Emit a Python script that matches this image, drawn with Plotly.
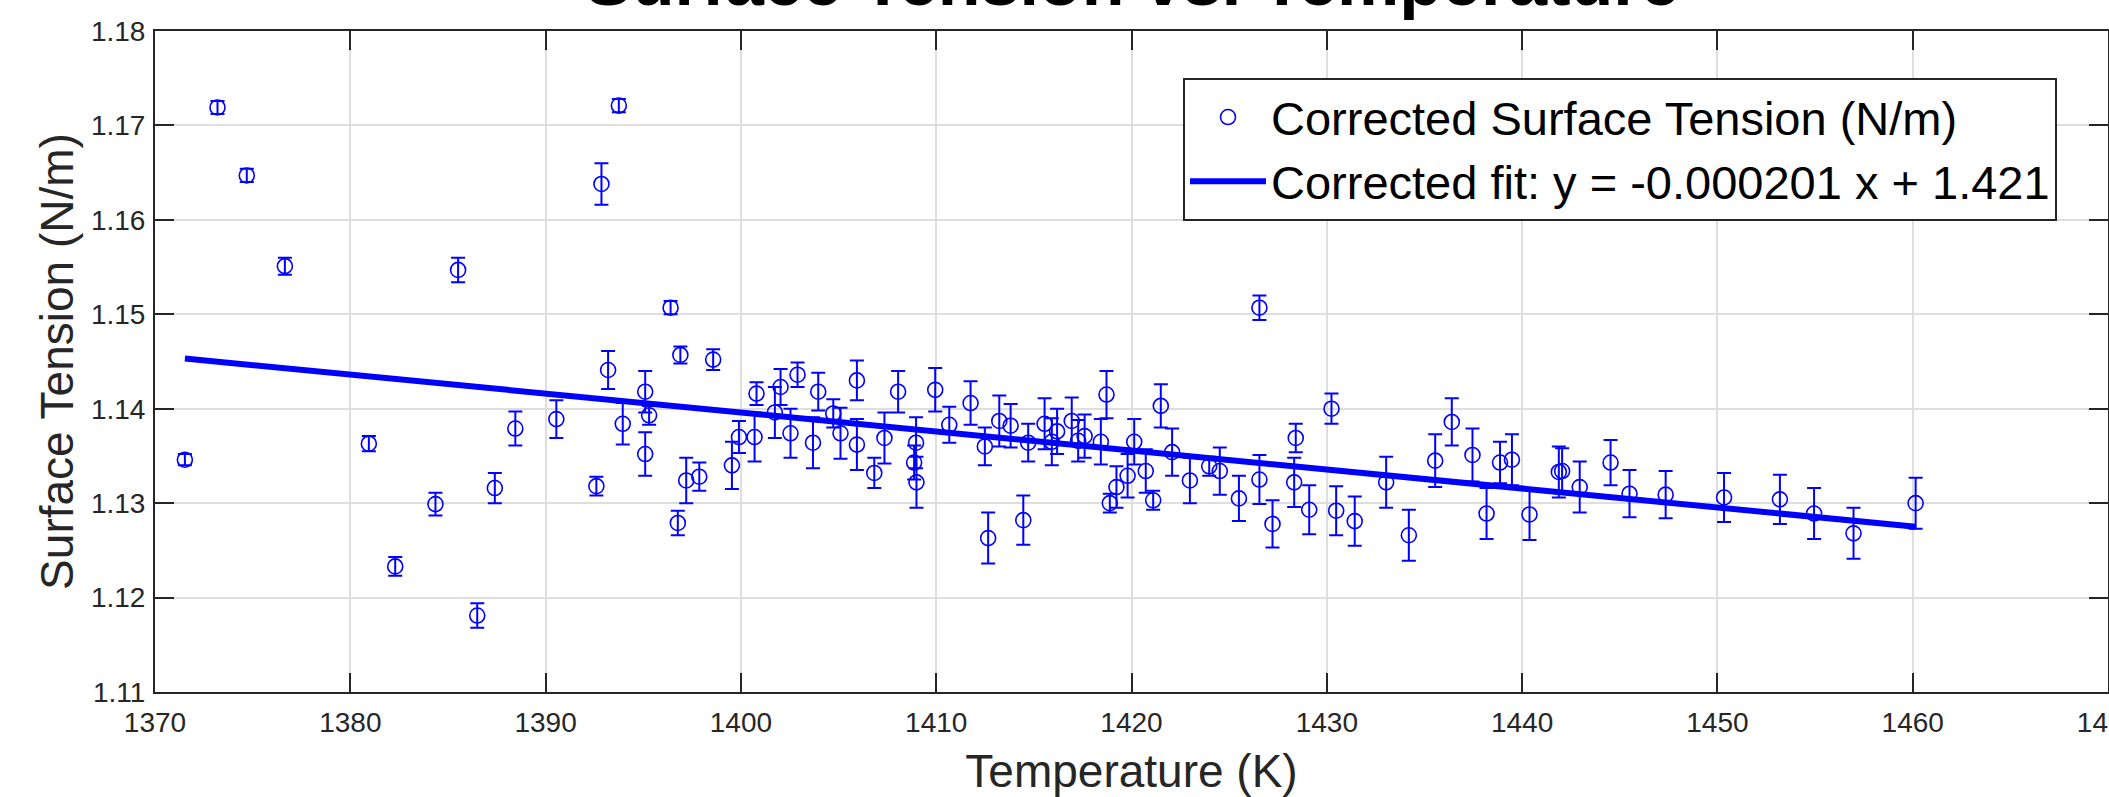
import plotly.graph_objects as go

# ---- data ----
temperature = [1371.53, 1373.20, 1374.70, 1376.65, 1380.95, 1382.30, 1384.36, 1385.52, 1386.50, 1387.40,
               1388.45, 1390.55, 1392.60, 1392.86, 1393.20, 1393.75, 1393.95, 1395.10, 1395.10, 1395.30,
               1396.40, 1396.77, 1396.90, 1397.20, 1397.87, 1398.58, 1399.54, 1399.90, 1400.70, 1400.80,
               1401.74, 1402.03, 1402.54, 1402.90, 1403.69, 1403.96, 1404.73, 1405.10, 1405.94, 1405.94,
               1406.83, 1407.35, 1408.05, 1408.87, 1408.97, 1408.99, 1409.95, 1410.67, 1411.76, 1412.49,
               1412.66, 1413.23, 1413.81, 1414.46, 1414.71, 1415.55, 1415.92, 1416.19, 1416.94, 1417.27,
               1417.60, 1418.43, 1418.72, 1418.89, 1419.23, 1419.80, 1420.14, 1420.73, 1421.11, 1421.50,
               1422.08, 1422.99, 1423.98, 1424.52, 1425.50, 1426.55, 1426.55, 1427.22, 1428.33, 1428.41,
               1429.10, 1430.24, 1430.48, 1431.43, 1433.04, 1434.20, 1435.55, 1436.40, 1437.46, 1438.18,
               1438.87, 1439.48, 1440.38, 1441.88, 1442.05, 1442.95, 1444.53, 1445.50, 1447.35, 1450.34,
               1453.20, 1454.95, 1456.97, 1460.15]

surface_tension = [1.1346, 1.1719, 1.1647, 1.1551, 1.1363, 1.1233, 1.1299, 1.1547, 1.1181, 1.1316,
                   1.1379, 1.1389, 1.1318, 1.1638, 1.1441, 1.1721, 1.1384, 1.1418, 1.1352, 1.1393,
                   1.1507, 1.1279, 1.1457, 1.1324, 1.1328, 1.1452, 1.1340, 1.1370, 1.1370, 1.1416,
                   1.1396, 1.1423, 1.1374, 1.1436, 1.1364, 1.1418, 1.1395, 1.1374, 1.1430, 1.1362,
                   1.1332, 1.1369, 1.1418, 1.1343, 1.1364, 1.1322, 1.1420, 1.1383, 1.1406, 1.1360,
                   1.1263, 1.1387, 1.1382, 1.1282, 1.1364, 1.1384, 1.1365, 1.1376, 1.1387, 1.1366,
                   1.1371, 1.1365, 1.1415, 1.1300, 1.1317, 1.1329, 1.1365, 1.1334, 1.1303, 1.1403,
                   1.1354, 1.1324, 1.1339, 1.1334, 1.1305, 1.1507, 1.1325, 1.1278, 1.1322, 1.1369,
                   1.1293, 1.1400, 1.1292, 1.1281, 1.1322, 1.1266, 1.1345, 1.1386, 1.1351, 1.1289,
                   1.1343, 1.1346, 1.1288, 1.1333, 1.1334, 1.1317, 1.1343, 1.1310, 1.1309, 1.1306,
                   1.1304, 1.1289, 1.1268, 1.1300]

uncertainty = [0.0006, 0.0007, 0.0007, 0.0009, 0.0008, 0.0010, 0.0012, 0.0013, 0.0013, 0.0016,
               0.0018, 0.0020, 0.0010, 0.0022, 0.0020, 0.0007, 0.0022, 0.0022, 0.0023, 0.0010,
               0.0007, 0.0013, 0.0009, 0.0024, 0.0015, 0.0011, 0.0025, 0.0017, 0.0026, 0.0012,
               0.0027, 0.0019, 0.0026, 0.0013, 0.0027, 0.0020, 0.0015, 0.0027, 0.0021, 0.0027,
               0.0016, 0.0027, 0.0022, 0.0018, 0.0027, 0.0027, 0.0023, 0.0019, 0.0023, 0.0020,
               0.0027, 0.0027, 0.0023, 0.0026, 0.0020, 0.0027, 0.0025, 0.0024, 0.0025, 0.0022,
               0.0023, 0.0024, 0.0025, 0.0010, 0.0022, 0.0023, 0.0024, 0.0023, 0.0010, 0.0023,
               0.0025, 0.0024, 0.0010, 0.0025, 0.0024, 0.0013, 0.0026, 0.0025, 0.0026, 0.0015,
               0.0026, 0.0016, 0.0026, 0.0026, 0.0027, 0.0027, 0.0028, 0.0025, 0.0028, 0.0027,
               0.0022, 0.0027, 0.0027, 0.0027, 0.0024, 0.0027, 0.0024, 0.0025, 0.0025, 0.0026,
               0.0026, 0.0027, 0.0027, 0.0027]

fit_temperature = [1371.53, 1460.15]
fit_tension = [1.14532, 1.12750]

x_ticks = [1370, 1380, 1390, 1400, 1410, 1420, 1430, 1440, 1450, 1460, 1470]
y_ticks = [1.11, 1.12, 1.13, 1.14, 1.15, 1.16, 1.17, 1.18]

title_text = "Surface Tension vs. Temperature"
x_label = "Temperature (K)"
y_label = "Surface Tension (N/m)"
series_name = "Corrected Surface Tension (N/m)"
fit_name = "Corrected fit: y = -0.000201 x + 1.421"

FONT = "Liberation Sans, Arial, Helvetica, sans-serif"
AX = "#262626"
BLUE = "rgb(0,0,255)"

fig = go.Figure()
fig.add_trace(go.Scatter(
    x=temperature, y=surface_tension, mode="markers", name=series_name,
    marker=dict(symbol="circle-open", size=15, color=BLUE, line=dict(width=1.6, color=BLUE)),
    error_y=dict(type="data", array=uncertainty, visible=True, color=BLUE, thickness=2, width=7),
))
fig.add_trace(go.Scatter(
    x=fit_temperature, y=fit_tension, mode="lines", name=fit_name,
    line=dict(color=BLUE, width=6),
))

axis_common = dict(
    showline=True, linecolor=AX, linewidth=2, mirror="ticks",
    ticks="inside", ticklen=19, tickwidth=1.5, tickcolor=AX,
    showgrid=True, gridcolor="#dedede", gridwidth=1.5,
    zeroline=False, tickfont=dict(family=FONT, size=28, color=AX),
    automargin=False, ticklabeloverflow="allow",
)

fig.update_xaxes(
    range=[x_ticks[0], x_ticks[-1]], tickvals=x_ticks, ticktext=[str(v) for v in x_ticks],
    title=dict(text=x_label, font=dict(family=FONT, size=46, color=AX), standoff=22),
    ticklabelstandoff=4,
    **axis_common,
)
fig.update_yaxes(
    range=[y_ticks[0], y_ticks[-1]], tickvals=y_ticks, ticktext=[f"{v:.2f}" for v in y_ticks],
    title=dict(text=y_label, font=dict(family=FONT, size=46, color=AX), standoff=3),
    ticklabelstandoff=2,
    **axis_common,
)

fig.add_annotation(
    text=f"<b>{title_text}</b>", xref="paper", yref="paper", x=0.5, y=1.0136,
    xanchor="center", yanchor="bottom", showarrow=False,
    font=dict(family=FONT, size=70, color="black"),
)

fig.update_layout(
    width=2109, height=797,
    margin=dict(l=155, r=1, t=31, b=105, pad=0),
    paper_bgcolor="white", plot_bgcolor="white",
    showlegend=True,
    legend=dict(
        x=0.9739, y=0.9289, xanchor="right", yanchor="top",
        bgcolor="white", bordercolor=AX, borderwidth=2,
        font=dict(family=FONT, size=47, color="black"),
        itemwidth=76, tracegroupgap=0,
    ),
)

fig.write_html("out.html")
